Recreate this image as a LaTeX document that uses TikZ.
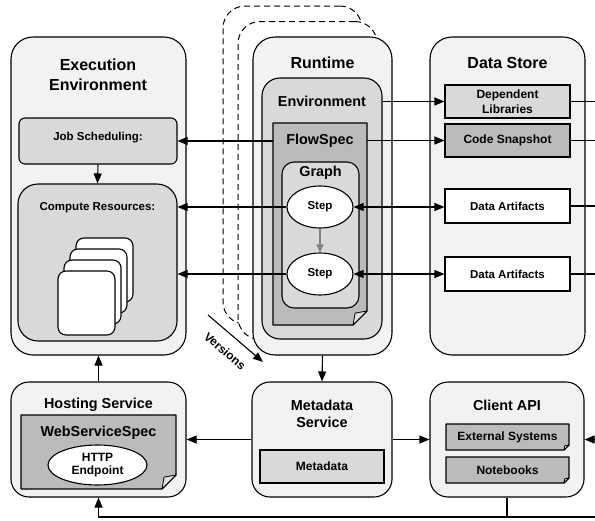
\documentclass[tikz,border=0pt]{standalone}
\usepackage{fontspec}
\setmainfont{Liberation Sans}
\usepackage{xcolor}
\usetikzlibrary{positioning, shapes.geometric, arrows.meta, calc}

\definecolor{paneFill}{HTML}{F2F2F2}
\definecolor{boxFill}{HTML}{D9D9D9}
\definecolor{specFill}{HTML}{BBBBBB}
\definecolor{foldFill}{HTML}{E0E0E0}

\begin{document}
\begin{tikzpicture}[x=1pt, y=-1pt,
        pane/.style={
                draw,
                rounded corners=22pt,
                line width=1.1pt,
                fill=paneFill,
                inner sep=0pt,
        },
        inbox/.style={
                draw,
                line width=1.1pt,
                fill=boxFill,
                inner sep=0pt,
                font=\fontsize{11.5}{14}\selectfont\bfseries,
                align=center,
        },
        holder/.style={inner sep=0pt, outer sep=0pt},
        page/.style={draw, line width=1.1pt, fill=specFill, line join=round},
        fold/.style={draw, line width=0.8pt, fill=foldFill, line join=round},
        card/.style={draw, line width=1.1pt, fill=white, rounded corners=8pt,
                minimum width=57pt, minimum height=64pt},
        stepnode/.style={ellipse, draw, line width=1.1pt, fill=white, inner sep=0pt,
                minimum width=66pt, minimum height=42pt,
                font=\fontsize{11.5}{14}\selectfont\bfseries},
        bigtitle/.style={font=\fontsize{16}{20}\selectfont\bfseries, align=center, inner sep=0pt},
        midtitle/.style={font=\fontsize{14.4}{17}\selectfont\bfseries, align=center, inner sep=0pt},
        smalltitle/.style={font=\fontsize{11.5}{14}\selectfont\bfseries, align=center, inner sep=0pt},
        link/.style={line width=1.1pt},
        flowarrow/.style={line width=1.1pt, -{Triangle[length=10pt,width=8pt]}},
        bothways/.style={line width=1.1pt, {Triangle[length=10pt,width=8pt]}-{Triangle[length=10pt,width=8pt]}},
    ]
    \useasboundingbox (0,0) rectangle (595,520);
    \coordinate (edge) at (595,0);
    \coordinate (floor) at (0,517);

    % execution environment
    \node[pane, minimum width=175pt, minimum height=318pt] (exec) at (98.5,196) {};
    \node[bigtitle] (execT) at (98,75) {Execution\\Environment};
    \node[inbox, rounded corners=6pt, minimum width=158pt, minimum height=46pt] (jobs) at (98,141) {};
    \node[smalltitle] (jobsT) at (98,138) {Job Scheduling:};
    \node[inbox, rounded corners=20pt, minimum width=159pt, minimum height=157pt] (comp) at (97.5,262.5) {};
    \node[smalltitle] (compT) at (97.5,208) {Compute Resources:};
    \foreach \i in {3,2,1,0}
        \node[card] (card\i) at (86.5+6*\i, 303-11*\i) {};

    % runtime and its versions
    \foreach \i in {2,1}
        \node[pane, fill=white, line width=1pt, dash pattern=on 6pt off 4pt,
            minimum width=139pt, minimum height=318pt] (ver\i) at (322.5-15*\i, 196-15.5*\i) {};
    \node[pane, minimum width=139pt, minimum height=318pt] (runtime) at (322.5,196) {};
    \node[bigtitle] (runT) at (322.5,63) {Runtime};
    \node[inbox, rounded corners=18pt, minimum width=120pt, minimum height=261pt] (env) at (322,208.5) {};
    \node[midtitle] (envT) at (322,101) {Environment};
    \node[holder, minimum width=94pt, minimum height=202pt] (flow) at (320,224) {};
    \node[holder, minimum width=77pt, minimum height=146pt] (graph) at (320.5,235) {};

    % data store
    \node[pane, minimum width=155pt, minimum height=318pt] (store) at (507.5,196) {};
    \node[bigtitle] (storeT) at (507.5,63) {Data Store};
    \node[inbox, minimum width=125pt, minimum height=33pt, font=\fontsize{12}{15}\selectfont\bfseries] (deps) at (507.5,101.5) {Dependent\\Libraries};
    \node[inbox, fill=specFill, minimum width=125pt, minimum height=33pt, font=\fontsize{12}{15}\selectfont\bfseries] (code) at (507.5,140.5) {Code Snapshot};
    \node[inbox, fill=white, minimum width=125pt, minimum height=34pt] (art1) at (507.5,206) {Data Artifacts};
    \node[inbox, fill=white, minimum width=125pt, minimum height=34pt] (art2) at (507.5,274) {Data Artifacts};

    % services
    \node[pane, rounded corners=18pt, minimum width=175pt, minimum height=115pt] (host) at (98.5,439.5) {};
    \node[midtitle] (hostT) at (98.5,405) {Hosting Service};
    \node[holder, minimum width=155pt, minimum height=74pt] (websvc) at (98.5,452) {};

    \node[pane, rounded corners=18pt, minimum width=140pt, minimum height=115pt] (meta) at (322,439.5) {};
    \node[midtitle] (metaT) at (322,413.5) {Metadata\\Service};
    \node[inbox, minimum width=124pt, minimum height=33pt, font=\fontsize{12}{14}\selectfont\bfseries] (metad) at (322,466.5) {Metadata};

    \node[pane, rounded corners=18pt, minimum width=154pt, minimum height=115pt] (client) at (507,439.5) {};
    \node[midtitle] (clientT) at (507,405) {Client API};
    \node[holder, minimum width=123pt, minimum height=26pt] (ext) at (507.5,437) {};
    \node[holder, minimum width=123pt, minimum height=26pt] (note) at (507.5,470) {};

    % spec pages with a turned corner
    \foreach \n/\f in {flow/14, websvc/14, ext/5, note/5} {
        \coordinate (\n-c) at (\n.south east);
        \draw[page] (\n.north west) -- (\n.north east) -- ($(\n-c)+(0,-\f)$)
            -- ($(\n-c)+(-\f,0)$) -- (\n.south west) -- cycle;
        \draw[fold] ($(\n-c)+(0,-\f)$) -- ($(\n-c)+(-\f,0)$) -- ($(\n-c)+(-0.85*\f,-0.85*\f)$) -- cycle;
    }
    \node[midtitle] (flowT) at (320,141) {FlowSpec};
    \node[inbox, rounded corners=12pt, minimum width=77pt, minimum height=146pt] (graphbox) at (graph) {};
    \node[midtitle] (graphT) at (320.5,173) {Graph};
    \node[stepnode] (step1) at (320,207) {Step};
    \node[stepnode] (step2) at (320,274) {Step};
    \node[midtitle] (websvcT) at (98.5,433) {WebServiceSpec};
    \node[stepnode, minimum width=99pt, minimum height=40pt, align=center,
        font=\fontsize{12}{13.5}\selectfont\bfseries] (http) at (97.5,465) {HTTP\\Endpoint};
    \node[smalltitle, font=\fontsize{12}{14}\selectfont\bfseries] (extT) at (ext) {External Systems};
    \node[smalltitle, font=\fontsize{12}{14}\selectfont\bfseries] (noteT) at (note) {Notebooks};

    % connectors
    \draw[flowarrow] (jobs.south) -- (comp.north);
    \draw[flowarrow] (jobs.east -| flow.west) -- (jobs.east);
    \draw[flowarrow] (step1.west) -- (step1.west -| comp.east);
    \draw[flowarrow] (step2.west) -- (step2.west -| comp.east);
    \draw[line width=1.2pt, gray, -{Triangle[length=8pt,width=7pt]}] (step1.south) -- (step2.north);
    \draw[flowarrow] (deps.west -| env.east) -- (deps.west);
    \draw[flowarrow] (code.west -| flow.east) -- (code.west);
    \draw[bothways] (step1.east) -- (step1.east -| art1.west);
    \draw[bothways] (step2.east) -- (step2.east -| art2.west);
    \foreach \b in {deps, code, art1, art2}
        \draw[link] (\b.east) -- (\b.east -| edge);

    \coordinate (verA) at (208,315);
    \coordinate (verB) at (263,362);
    \draw[flowarrow] (verA) -- (verB);
    \node[smalltitle, font=\fontsize{12}{14}\selectfont\bfseries, rotate=-40.5] (verT) at (225,351) {Versions};

    \draw[flowarrow] (host.north) -- (exec.south);
    \draw[flowarrow] (runtime.south) -- (meta.north);
    \draw[flowarrow] (meta.west) -- (host.east);
    \draw[flowarrow] (meta.east) -- (client.west);
    \draw[flowarrow] (client.east -| edge) -- (client.east);
    \draw[link] (client.south) -- (client.south |- floor);
    \draw[flowarrow] (floor -| edge) -| (host.south);
\end{tikzpicture}
\end{document}
